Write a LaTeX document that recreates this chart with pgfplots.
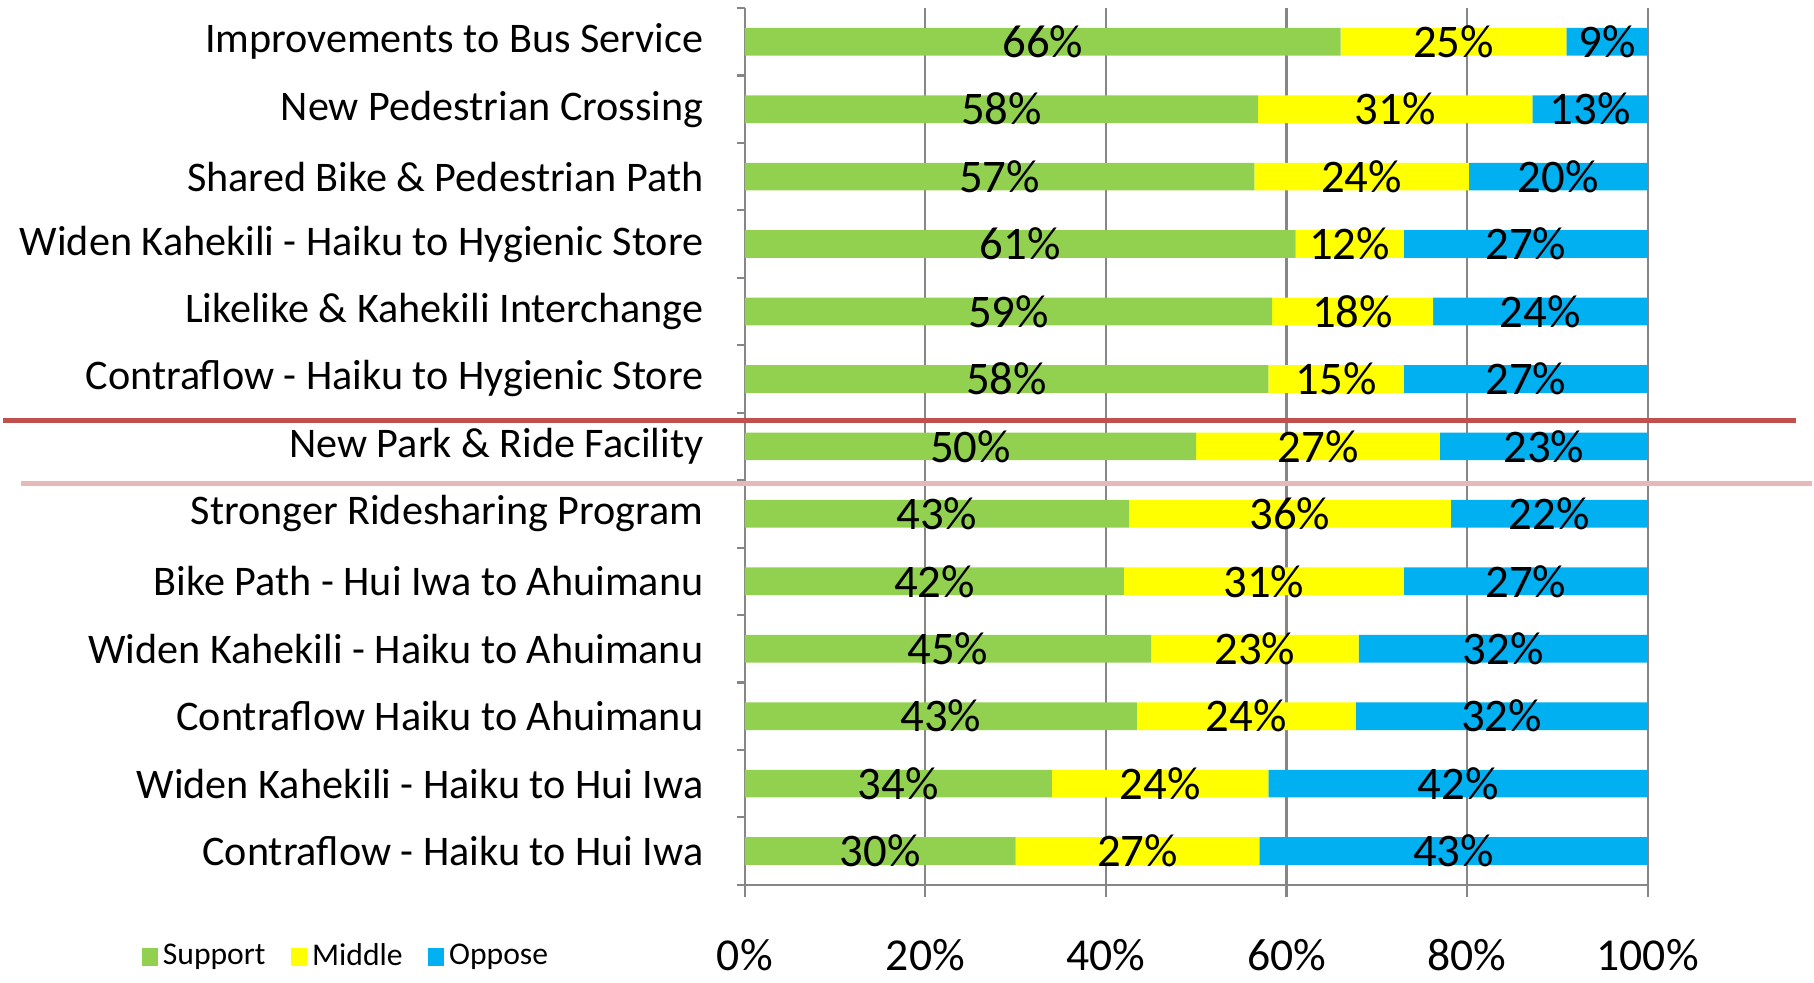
\documentclass[border=0pt]{standalone}
\usepackage{fontspec}
\setmainfont{Carlito}
\usepackage{pgfplots}
\pgfplotsset{compat=1.18}

\definecolor{cgreen}{HTML}{92D050}
\definecolor{cyellow}{HTML}{FFFF00}
\definecolor{cblue}{HTML}{00B0F0}
\definecolor{cgrid}{HTML}{868686}
\definecolor{cred}{HTML}{C0504D}
\definecolor{cpink}{HTML}{E6B9B8}

\begin{document}
\begin{tikzpicture}
\begin{axis}[
  xbar stacked,
  scale only axis,
  width=9.03cm, height=8.77cm,
  xmin=0, xmax=100,
  ymin=-0.5, ymax=12.5,
  bar width=0.277cm,
  axis lines*=left,
  axis line style={cgrid, line width=0.6pt},
  xmajorgrids,
  grid style={cgrid, line width=0.6pt},
  tick align=outside,
  major tick length=0.12cm,
  minor tick length=0.08cm,
  tick style={cgrid, line width=0.6pt},
  major y tick style={draw=none},
  xtick={0,20,40,60,80,100},
  xticklabels={0\%,20\%,40\%,60\%,80\%,100\%},
  xticklabel style={font=\fontsize{13}{15}\selectfont, yshift=-0.3cm},
  ytick={0,...,12},
  minor ytick={-0.5,0.5,...,12.5},
  yticklabels={
    Contraflow - Haiku to Hui Iwa,
    Widen Kahekili - Haiku to Hui Iwa,
    Contraflow Haiku to Ahuimanu,
    Widen Kahekili - Haiku to Ahuimanu,
    Bike Path - Hui Iwa to Ahuimanu,
    Stronger Ridesharing Program,
    New Park \& Ride Facility,
    Contraflow - Haiku to Hygienic Store,
    Likelike \& Kahekili Interchange,
    Widen Kahekili - Haiku to Hygienic Store,
    Shared Bike \& Pedestrian Path,
    New Pedestrian Crossing,
    Improvements to Bus Service},
  yticklabel style={font=\fontsize{12}{14}\selectfont, xshift=-0.17cm},
  point meta=explicit symbolic,
  nodes near coords={\pgfplotspointmeta\%},
  every node near coord/.append style={font=\fontsize{13.3}{15}\selectfont,
    anchor=center, yshift=0pt},
  clip=false,
  legend columns=-1,
  legend style={at={(axis description cs:0,0)}, anchor=west,
    xshift=-6.04cm, yshift=-0.72cm, draw=none, fill=none,
    font=\fontsize{9}{10}\selectfont, inner sep=0pt,
    nodes={inner sep=1.5pt},
    /tikz/every even column/.append style={column sep=0.2cm}},
  legend image code/.code={\fill[#1] (0cm,-0.09cm) rectangle (0.16cm,0.09cm);},
]
\addplot[fill=cgreen, draw=none] coordinates {
  (30,0) [30] (34,1) [34] (43.43,2) [43] (45,3) [45] (42,4) [42]
  (42.57,5) [43] (50,6) [50] (58,7) [58] (58.42,8) [59] (61,9) [61]
  (56.44,10) [57] (56.86,11) [58] (66,12) [66]};
\addplot[fill=cyellow, draw=none] coordinates {
  (27,0) [27] (24,1) [24] (24.24,2) [24] (23,3) [23] (31,4) [31]
  (35.64,5) [36] (27,6) [27] (15,7) [15] (17.82,8) [18] (12,9) [12]
  (23.76,10) [24] (30.39,11) [31] (25,12) [25]};
\addplot[fill=cblue, draw=none] coordinates {
  (43,0) [43] (42,1) [42] (32.32,2) [32] (32,3) [32] (27,4) [27]
  (21.78,5) [22] (23,6) [23] (27,7) [27] (23.76,8) [24] (27,9) [27]
  (19.80,10) [20] (12.75,11) [13] (9,12) [9]};
\legend{Support, Middle, Oppose}

\draw[cred, line width=1.4pt] ([xshift=-7.415cm]axis cs:0,6.38) -- ([xshift=1.48cm]axis cs:100,6.38);
\draw[cpink, line width=1.4pt] ([xshift=-7.24cm]axis cs:0,5.45) -- ([xshift=1.64cm]axis cs:100,5.45);
\end{axis}
\path (current axis.south west) ++(-7.45cm,-0.93cm) coordinate (bl);
\path (current axis.north east) ++(1.66cm,0.08cm) coordinate (tr);
\path (bl) rectangle (tr);
\end{tikzpicture}
\end{document}
